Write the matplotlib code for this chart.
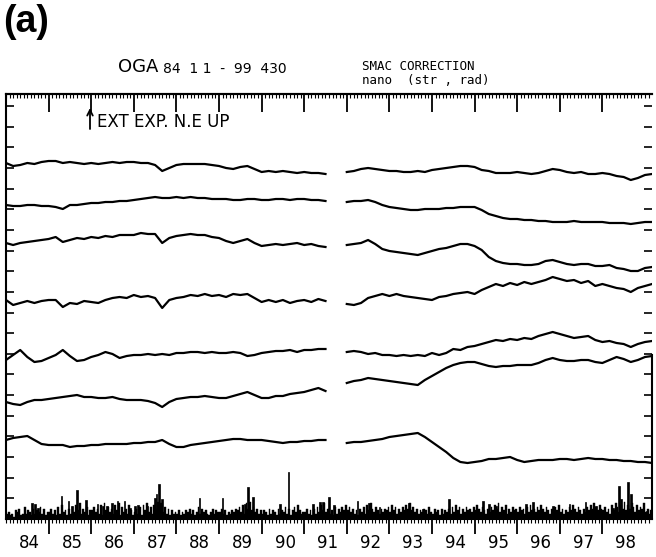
import numpy as np
import matplotlib.pyplot as plt
from matplotlib.ticker import MultipleLocator

# strain residuals (plot units, up = positive), sampled every 2 months from 1984.0
nan = np.nan
ext_1 = [0, -3, -2, 0, -1, 1, 2, 2, 0, 1,
         0, -1, 0, -1, 0, 1, 0, 1, 1, 0,
         0, -2, -8, -5, -2, -1, -1, -1, -1, -2,
         -3, -5, -6, -4, -3, -6, -9, -8, -9, -8,
         -9, -10, -9, -10, -10, -11, nan, nan,
         -9, -8, -6, -5, -6, -7, -8, -8, -9, -9,
         -8, -9, -7, -6, -5, -4, -3, -3, -4, -7,
         -8, -10, -10, -10, -9, -10, -11, -10, -8, -6,
         -7, -9, -10, -9, -11, -11, -10, -11, -13, -14,
         -17, -15, -12, -11]
ext_2 = [0, -1, -1, 0, 0, -1, -1, -2, -4, 0,
         0, 1, 2, 2, 3, 3, 4, 4, 5, 6,
         7, 8, 7, 7, 8, 7, 8, 7, 7, 6,
         6, 6, 5, 5, 6, 6, 5, 5, 6, 6,
         5, 6, 6, 5, 5, 4, nan, nan,
         3, 4, 4, 5, 3, 0, -2, -3, -4, -5,
         -5, -4, -4, -4, -3, -3, -2, -2, -2, -5,
         -9, -11, -13, -14, -14, -15, -15, -16, -16, -17,
         -17, -17, -16, -17, -17, -17, -17, -18, -18, -18,
         -19, -18, -17, -17]
ext_3 = [0, -2, 0, 1, 2, 3, 4, 6, 1, 3,
         5, 4, 6, 5, 7, 6, 8, 8, 8, 10,
         9, 9, 0, 5, 7, 8, 9, 8, 8, 6,
         5, 2, 0, 2, 4, 0, -3, -2, -1, -2,
         -1, 0, -2, -1, -3, -4, nan, nan,
         -2, -1, 0, 3, -1, -6, -8, -9, -10, -11,
         -12, -10, -8, -6, -5, -3, -1, -1, -3, -7,
         -14, -18, -20, -21, -21, -22, -22, -21, -18, -17,
         -19, -21, -22, -21, -21, -23, -23, -22, -25, -26,
         -28, -28, -25, -24]
ext_4 = [0, -5, -3, -1, -3, -1, 0, 0, -7, -3,
         -4, -1, -2, -3, 0, 2, 3, 2, 5, 3,
         4, 2, -8, 0, 2, 3, 5, 4, 6, 4,
         5, 3, 6, 5, 6, 2, -2, 0, -2, 0,
         -3, -1, 0, -2, 1, -1, nan, nan,
         -4, -5, -3, 2, 4, 6, 4, 6, 4, 3,
         2, 1, 0, 3, 4, 6, 7, 8, 6, 10,
         13, 16, 14, 17, 15, 18, 16, 18, 20, 23,
         21, 19, 20, 17, 19, 14, 16, 14, 12, 11,
         8, 12, 14, 16]
ext_5 = [0, 5, 10, 3, -2, -1, 2, 5, 10, 4,
         -1, 0, 3, 5, 8, 6, 2, 4, 5, 5,
         6, 5, 6, 5, 7, 7, 8, 8, 7, 8,
         7, 7, 8, 7, 4, 5, 7, 8, 9, 9,
         10, 8, 10, 10, 11, 11, nan, nan,
         8, 9, 8, 6, 7, 5, 5, 4, 5, 4,
         5, 4, 7, 5, 7, 11, 10, 13, 14, 16,
         18, 20, 19, 21, 20, 22, 21, 24, 26, 28,
         26, 24, 22, 23, 24, 20, 18, 19, 17, 16,
         13, 16, 18, 19]
ext_6 = [0, -2, -3, 0, 2, 2, 3, 4, 5, 6,
         7, 5, 5, 4, 4, 5, 3, 2, 2, 2,
         1, -1, -5, 0, 3, 4, 5, 5, 6, 5,
         4, 4, 6, 8, 10, 7, 4, 4, 6, 6,
         8, 9, 10, 12, 14, 11, nan, nan,
         19, 21, 22, 24, 23, 22, 21, 20, 19, 18,
         17, 22, 26, 30, 34, 37, 39, 40, 40, 38,
         36, 35, 36, 36, 37, 37, 37, 39, 42, 44,
         42, 41, 41, 42, 42, 40, 39, 42, 45, 43,
         40, 42, 45, 46]
ext_7 = [0, 2, 3, 4, 0, -4, -5, -5, -5, -7,
         -6, -6, -5, -5, -4, -4, -4, -4, -3, -3,
         -2, -2, 0, -4, -7, -7, -5, -4, -3, -2,
         -1, 0, 1, 1, 0, 0, 0, -1, -2, -3,
         -2, -2, -1, -1, 0, 0, nan, nan,
         -3, -2, -2, -1, 0, 1, 3, 4, 5, 6,
         7, 3, -2, -7, -12, -18, -22, -23, -22, -21,
         -19, -19, -18, -17, -20, -22, -21, -20, -20, -20,
         -19, -19, -20, -19, -18, -19, -19, -20, -20, -21,
         -21, -22, -22, -23]
traces = [ext_1, ext_2, ext_3, ext_4, ext_5, ext_6, ext_7]

# rainfall, half-month values (small) and the larger events
rain_base = {
    1984: "231204351262431524362513",
    1985: "352416273415263748253614",
    1986: "463527184635274816352741",
    1987: "352617483627594836251423",
    1988: "241324352413625342135243",
    1989: "352413243546372859463524",
    1990: "243152431524362514637423",
    1991: "352415263748352416253647",
    1992: "463524153627485364253546",
    1993: "374625364758463524354263",
    1994: "253415243526374625364536",
    1995: "475364253647583647253645",
    1996: "364526374536475364253647",
    1997: "352436475364253647586475",
    1998: "463527486375947586374658",
    1999: "3524",
}
rain_events_t = [1984.61, 1984.68, 1984.75, 1985.31, 1985.46, 1985.55, 1985.67, 1985.88,
                 1986.14, 1986.28, 1986.37, 1986.49, 1986.61, 1986.79, 1986.91, 1987.03,
                 1987.10, 1987.33, 1987.50, 1987.54, 1987.59, 1987.66, 1988.55, 1989.09,
                 1989.61, 1989.68, 1989.80, 1990.43, 1990.64, 1991.21, 1991.37, 1991.44,
                 1991.58, 1991.70, 1992.26, 1992.52, 1992.76, 1993.46, 1993.79, 1994.40,
                 1994.59, 1995.20, 1995.34, 1995.50, 1996.21, 1996.37, 1996.84, 1997.22,
                 1997.61, 1997.85, 1998.25, 1998.39, 1998.44, 1998.60, 1998.67, 1999.03,
                 1999.19]
rain_events_h = [16, 15, 11, 23, 18, 13, 29, 19,
                 15, 13, 13, 16, 18, 18, 11, 13,
                 14, 13, 21, 25, 35, 20, 21, 21,
                 15, 32, 22, 15, 47, 15, 17, 17,
                 22, 14, 18, 16, 12, 16, 10, 20,
                 9, 18, 15, 13, 15, 17, 13, 15,
                 17, 13, 11, 33, 20, 37, 25, 8,
                 17]

year_labels = ['84', '85', '86', '87', '88', '89', '90', '91',
               '92', '93', '94', '95', '96', '97', '98']

# layout
offsets = [356, 314, 276, 219, 159, 117, 79]
rain_scale = 1.7
t0, t1 = 1984.0, 1999.165

fig = plt.figure(figsize=(6.56, 5.57), dpi=100)
ax = fig.add_axes([6 / 656, 38 / 557, 646 / 656, 425 / 557])

t = 1984 + np.arange(len(ext_1)) / 6
for off, tr in zip(offsets, traces):
    ax.plot(t, off + np.array(tr, dtype=float), color='black', lw=1.6,
            solid_joinstyle='round')

rt, rh = [], []
for yr, s in rain_base.items():
    for i, c in enumerate(s):
        rt.append(yr + (i + 0.5) / 24)
        rh.append(int(c) * rain_scale + 2)
ax.bar(rt, rh, width=1 / 24, color='black', edgecolor='black', linewidth=0.3)
ax.bar(rain_events_t, rain_events_h, width=0.03, color='black', edgecolor='black',
       linewidth=0.5)

ax.set_xlim(t0, t1)
ax.set_ylim(0, 425)

# axes frame
for side in ['left', 'top', 'right', 'bottom']:
    ax.spines[side].set_linewidth(1.5)
ax.spines['right'].set_bounds(0, 164)

ax.set_xticks(np.arange(1985, 1999))
ax.xaxis.set_minor_locator(MultipleLocator(1 / 12))
ax.tick_params(axis='x', which='major', direction='out', length=11, width=1.3,
               top=False, labelbottom=False)
ax.tick_params(axis='x', which='minor', direction='out', length=3, width=0.8, top=False)

ax.yaxis.set_major_locator(MultipleLocator(20.65))
ax.tick_params(axis='y', direction='in', length=6, width=1.2, left=True, right=True,
               labelleft=False)

sec = ax.secondary_xaxis('top')
sec.set_xticks(np.arange(1985, 1999))
sec.xaxis.set_minor_locator(MultipleLocator(1 / 12))
sec.tick_params(axis='x', which='major', direction='in', length=13, width=1.3,
                labeltop=False)
sec.tick_params(axis='x', which='minor', direction='in', length=3, width=0.8)
sec.spines['top'].set_linewidth(1.5)

for i, lab in enumerate(year_labels):
    ax.text(1984 + i + 0.55, -24 / 425, lab, transform=ax.get_xaxis_transform(),
            ha='center', va='center', fontsize=12)

# up arrow before the annotation
ax.annotate('', xy=(90 / 656, 1 - 108 / 557), xytext=(90 / 656, 1 - 129 / 557),
            xycoords='figure fraction', textcoords='figure fraction',
            arrowprops=dict(arrowstyle='->', lw=1.3, color='black',
                            shrinkA=0, shrinkB=0))
fig.text(97 / 656, 1 - 122 / 557, 'EXT EXP. N.E UP', ha='left', va='center',
         fontsize=12)

fig.text(3 / 656, 1 - 4 / 557, '(a)', ha='left', va='top', fontsize=27,
         fontweight='bold', family='Liberation Sans')
fig.text(118 / 656, 1 - 67 / 557, 'OGA', ha='left', va='center', fontsize=13)
fig.text(163 / 656, 1 - 69 / 557, '84  1 1  -  99  430', ha='left', va='center',
         fontsize=10)
fig.text(362 / 656, 1 - 66 / 557, 'SMAC CORRECTION', ha='left', va='center',
         fontsize=9, family='DejaVu Sans Mono')
fig.text(362 / 656, 1 - 81 / 557, 'nano  (str , rad)', ha='left', va='center',
         fontsize=9, family='DejaVu Sans Mono')

fig.savefig('out.png', dpi=100)
